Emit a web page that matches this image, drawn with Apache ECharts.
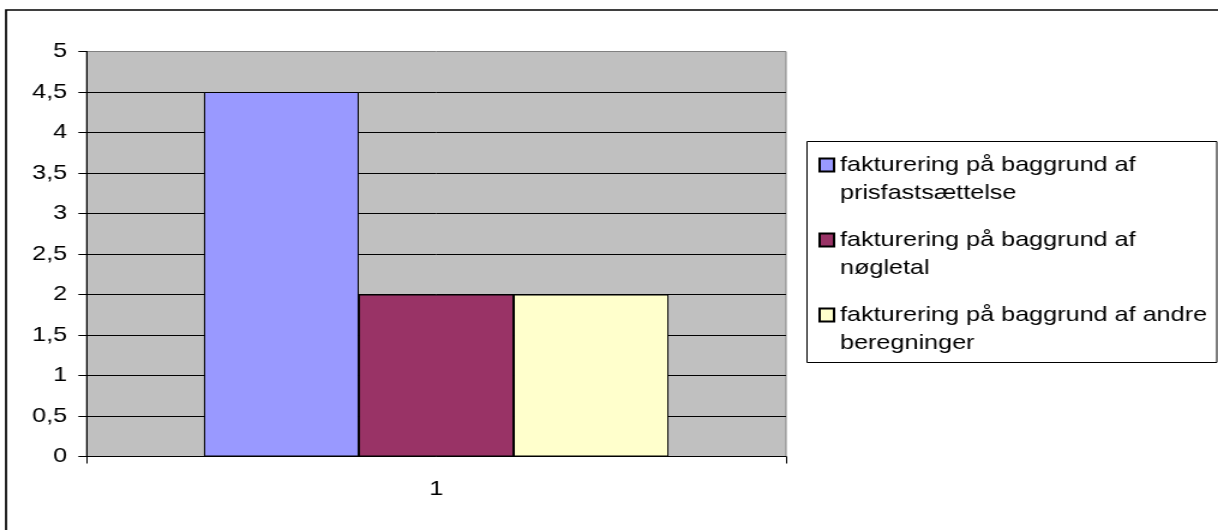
<!DOCTYPE html>
<html>
<head>
<meta charset="utf-8">
<title>Fakturering</title>
<script src="https://cdn.jsdelivr.net/npm/echarts@6/dist/echarts.min.js"></script>
<style>
  html, body { margin: 0; padding: 0; background: #ffffff; overflow: hidden; }
  /* the chart is laid out on a narrower canvas and widened, giving the wide lettering */
  #chart { width: 1015px; height: 530px; transform: scaleX(1.2); transform-origin: 0 0; }
</style>
</head>
<body>
<div id="chart"></div>
<script>
// Categories along the x axis
const categories = ['1'];

// Series names (line breaks as shown in the legend)
const seriesNames = [
  'fakturering på baggrund af\nprisfastsættelse',
  'fakturering på baggrund af\nnøgletal',
  'fakturering på baggrund af andre\nberegninger'
];

// Values per series
const prisfastsaettelse = [4.5];
const noegletal = [2];
const andreBeregninger = [2];

const seriesValues = [prisfastsaettelse, noegletal, andreBeregninger];
const seriesColors = ['#9999FF', '#993366', '#FFFFCC'];

// Value-axis scale
const yMin = 0;
const yMax = 5;
const yStep = 0.5;

const FONT = "'Liberation Sans', Arial, Helvetica, sans-serif";

const chart = echarts.init(document.getElementById('chart'), null, { renderer: 'canvas' });

chart.setOption({
  animation: false,
  backgroundColor: '#ffffff',
  textStyle: { fontFamily: FONT, color: '#000' },
  graphic: [
    // outer chart frame
    {
      type: 'rect', z: 0, silent: true,
      shape: { x: 5, y: 10, width: 1040, height: 560 },
      style: { fill: null, stroke: '#000', lineWidth: 1.7 }
    },
    // legend frame
    {
      type: 'rect', z: 0, silent: true,
      shape: { x: 672.5, y: 141.5, width: 341.5, height: 221 },
      style: { fill: null, stroke: '#000', lineWidth: 1 }
    }
  ],
  grid: {
    show: true,
    left: 72, top: 51.5, width: 583, height: 405,
    backgroundColor: '#C0C0C0',
    borderColor: '#808080',
    borderWidth: 1,
    containLabel: false
  },
  legend: {
    orient: 'vertical',
    left: 682, top: 123,
    padding: 0,
    itemWidth: 12, itemHeight: 13,
    itemGap: -9,
    icon: 'rect',
    data: seriesNames,
    // an empty leading line keeps the swatch level with the first text line
    formatter: name => '\n' + name,
    textStyle: {
      fontFamily: FONT, fontSize: 21, lineHeight: 28, color: '#000'
    }
  },
  xAxis: {
    type: 'category',
    data: categories,
    boundaryGap: true,
    axisLine: { show: true, lineStyle: { color: '#000', width: 1 } },
    axisTick: { show: true, length: 7, lineStyle: { color: '#000' } },
    axisLabel: { fontFamily: FONT, fontSize: 21, color: '#000', margin: 22 },
    splitLine: { show: false }
  },
  yAxis: {
    type: 'value',
    min: yMin, max: yMax, interval: yStep,
    axisLine: { show: true, lineStyle: { color: '#000', width: 1 } },
    axisTick: { show: true, length: 6.7, lineStyle: { color: '#000' } },
    axisLabel: {
      fontFamily: FONT, fontSize: 21, color: '#000', margin: 16,
      formatter: v => String(v).replace('.', ',')
    },
    splitLine: { show: true, showMinLine: false, showMaxLine: false, lineStyle: { color: '#000', width: 1 } }
  },
  series: seriesNames.map((name, i) => ({
    name: name,
    type: 'bar',
    data: seriesValues[i],
    barGap: '0%',
    barCategoryGap: '33.6%',
    itemStyle: { color: seriesColors[i], borderColor: '#000', borderWidth: 1 },
    emphasis: { disabled: true }
  }))
});
</script>
</body>
</html>
